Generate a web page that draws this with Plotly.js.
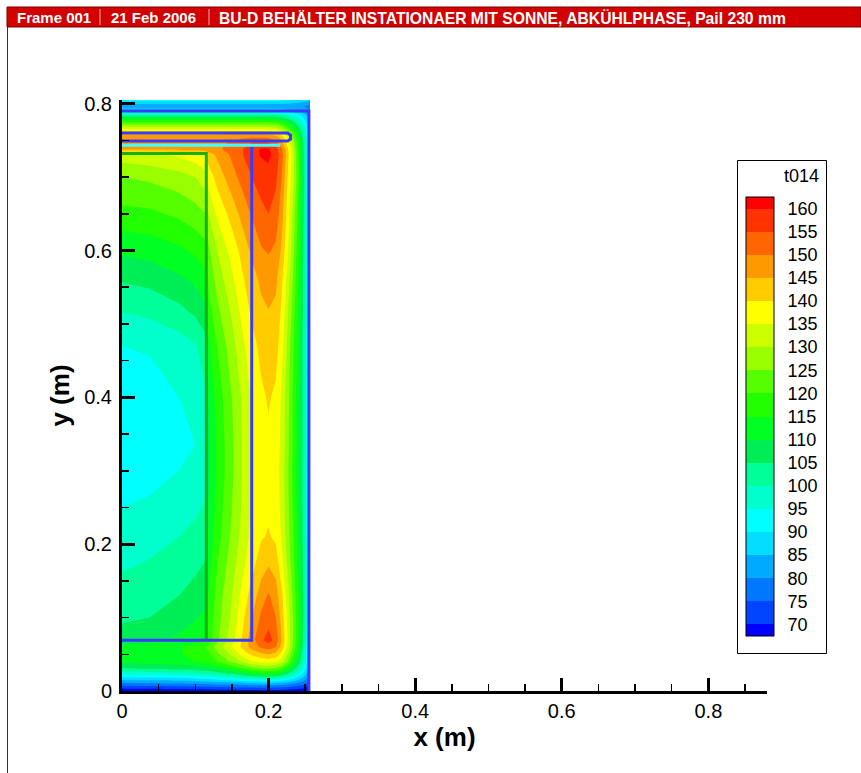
<!DOCTYPE html>
<html>
<head>
<meta charset="utf-8">
<script src="https://cdn.plot.ly/plotly-3.0.1.min.js"></script>
<style>html,body{margin:0;padding:0;background:#fff;}#chart{width:861px;height:773px;}</style>
</head>
<body>
<div id="chart"></div>
<script>
// ---- data ----
const xPos = [0, 0.038, 0.078, 0.1, 0.114, 0.118, 0.13, 0.15, 0.165, 0.177, 0.19, 0.2, 0.21, 0.218, 0.226, 0.234, 0.241, 0.247, 0.252, 0.256];
const yPos = [0, 0.008, 0.015, 0.022, 0.03, 0.04, 0.05, 0.06, 0.069, 0.1, 0.13, 0.17, 0.21, 0.25, 0.3, 0.335, 0.4, 0.47, 0.52, 0.56, 0.6, 0.65, 0.7, 0.731, 0.738, 0.745, 0.754, 0.761, 0.768, 0.776, 0.784, 0.79, 0.797, 0.805];
const t014 = [
  [66, 66, 66.5, 67, 67, 67, 67.5, 67.5, 68, 68, 68.5, 68.5, 68, 68, 67.5, 67, 66.5, 66, 65, 64],
  [76, 76.5, 77, 77.5, 78, 78, 78.5, 79, 79.5, 80, 80.5, 80.5, 80, 79.5, 78.5, 77.5, 76, 75, 73, 71],
  [85, 85.5, 86.5, 87.5, 88, 88.5, 89.5, 91, 92.5, 93.5, 94, 94, 93.5, 92, 90, 87.5, 85, 82, 79, 75],
  [94, 95, 96, 97, 98, 98.5, 100, 103, 106, 109, 111, 112, 110, 107, 103, 98, 94, 89, 84, 79],
  [104, 105, 106, 107, 108, 108.5, 111, 115, 119, 122, 124, 124.5, 123, 119.5, 114, 107.5, 101, 95, 88, 82],
  [111, 112, 113.5, 115, 116, 116.5, 120, 126, 131, 134.5, 136.5, 137, 136, 132, 125, 116, 108, 100, 91, 83],
  [111.5, 112.5, 114.5, 116.5, 118, 119, 124, 131, 137, 141, 144, 145, 143.5, 138, 130, 120, 111, 102, 93, 84],
  [111, 112, 114.5, 117.5, 120, 121, 127, 135, 141.5, 147, 151, 152.5, 150, 143, 134, 123, 114, 104, 94, 85],
  [108, 109, 111, 113, 114.5, 117, 124, 133, 141, 148, 154, 157, 153, 145, 135, 124, 115, 105, 95, 86],
  [104, 105, 107.5, 109.5, 111, 116, 123, 131, 139, 145, 151, 153, 150, 143, 134, 124, 115.5, 106, 96, 87],
  [102, 103, 105, 107, 108.5, 115, 122, 130, 137, 142, 147.5, 150.5, 147.5, 141, 132.5, 123, 115, 106, 96, 87],
  [99.5, 100.5, 102.5, 104, 105.5, 113, 120, 128, 134, 138.5, 143, 145, 143, 137, 129.5, 121, 113.5, 105, 96, 87],
  [97.5, 98.5, 100, 101.5, 103, 111, 118, 126, 132, 136.5, 139.5, 140.5, 139, 134.5, 127.5, 120, 112.5, 104.5, 95.5, 87],
  [95, 96, 97.5, 99, 100.5, 110, 117, 125, 131, 135.5, 138.5, 139, 138, 133.5, 126.5, 119, 112, 104, 95, 87],
  [91.5, 93, 95, 96.5, 98.5, 109, 116, 124, 130.5, 135, 138, 138.5, 137.5, 133, 126, 118.5, 111.5, 103.5, 95, 87],
  [91, 92, 93.5, 95, 98, 109, 116, 124, 130.5, 135, 138.5, 139, 138, 133.5, 126.5, 119, 112, 104, 95, 87],
  [92, 93, 95, 96.5, 99, 110, 117, 125, 131, 135.5, 139, 140.5, 139, 134, 127, 119, 112, 104, 95, 87],
  [95, 95.5, 97.5, 99.5, 103, 114, 120, 128, 134, 138, 141.5, 143, 142, 137, 129, 120, 113, 104, 95, 87],
  [100.5, 101.5, 104, 106.5, 109, 118, 124, 131, 137, 141, 144, 145, 144, 139, 131, 122, 114, 105, 95.5, 87],
  [105.5, 106.5, 109, 111, 113, 121, 127, 134, 139.5, 143, 146, 147, 146, 141, 133, 124, 115, 105, 95.5, 87],
  [111, 112, 114, 116, 118, 124, 130, 137, 142, 146, 149.5, 150.5, 149, 144, 136, 126, 116, 106, 96, 87],
  [118.5, 119, 121, 123, 125, 130, 136, 142, 147, 150.5, 153.5, 155, 153, 147, 138, 128, 118, 107, 96, 87],
  [125, 126, 128, 130, 133, 137, 142, 148, 152, 155, 157.5, 158.5, 156, 150, 140, 131, 120, 108, 97, 88],
  [133, 134, 136, 138, 140, 143, 146, 151, 155, 158, 160.5, 161, 158, 152, 142, 131, 119, 107, 96, 88],
  [146, 146, 146.5, 147, 147.5, 148, 149, 152, 155, 158, 160.5, 160.5, 157, 151, 141, 130, 118, 106, 96, 88],
  [147, 147, 147, 147.5, 148, 148, 149, 151, 153, 156, 157, 156, 153, 147, 138, 128, 117, 106, 96, 88],
  [148, 148, 148, 148, 148, 148, 148.5, 149, 149.5, 150, 150, 149.5, 147.5, 143, 135, 125, 114, 104, 95, 87],
  [142, 142, 142, 142, 142, 142, 142, 142, 142, 142, 142, 141.5, 140, 136, 129, 120, 111, 102, 94, 86],
  [131, 131, 131, 131, 131, 131, 131, 131, 131, 131, 131, 130.5, 129.5, 126, 120, 113, 106, 99, 92, 85],
  [118, 118, 118, 118, 118, 118, 118, 118, 118, 118, 118, 117.5, 117, 114.5, 110, 105, 99, 94, 89, 84],
  [103, 103, 103, 103, 103, 103, 103, 103, 103, 103, 103, 103, 102.5, 101, 98.5, 95.5, 92, 88.5, 85, 82],
  [88, 88, 88, 88, 88, 88, 88, 88, 88, 88, 88, 88, 88, 87.5, 86.5, 85.5, 84, 82.5, 81, 80],
  [82, 82, 82, 82, 82, 82, 82, 82, 82, 82, 82, 82, 82, 82, 81.5, 81, 80.5, 80, 79.5, 79],
  [92, 92, 92, 92, 92, 92, 92, 92, 92, 92, 92, 92, 92, 92, 91, 90, 89, 88, 87, 86]
];
const levelTicks = [70, 75, 80, 85, 90, 95, 100, 105, 110, 115, 120, 125, 130, 135, 140, 145, 150, 155, 160];
const bandColors = ['#0000ff', '#0044ff', '#0077ff', '#00aaff', '#00ddff', '#00ffff', '#00ffcc', '#00ff99', '#00ee55', '#00ff22',
                    '#22ff00', '#55ff00', '#99ff00', '#ccff00', '#ffff00', '#ffcc00', '#ff9900', '#ff6600', '#ff3300', '#ff0000'];
const legendTitle = 't014';
// structure outlines (m)
const wallOuterX = [0, 0.255, 0.255];      const wallOuterY = [0.79, 0.79, 0];
const lidX = [0, 0.226, 0.23, 0.23, 0.226, 0]; const lidY = [0.760, 0.760, 0.757, 0.752, 0.749, 0.749];
const sealX = [0, 0.216];                   const sealY = [0.7435, 0.7435];
const jacketX = [0.177, 0.177, 0];          const jacketY = [0.741, 0.069, 0.069];
const pailX = [0, 0.115, 0.115];            const pailY = [0.732, 0.732, 0.069];
const headerParts = ['Frame 001', '21 Feb 2006', 'BU-D BEHÄLTER INSTATIONAER MIT SONNE, ABKÜHLPHASE, Pail 230 mm'];

// ---- build ----
const colorscale = bandColors.map((c, i) => [i / (bandColors.length - 1), c]);
const W = 861, H = 773, L = 122, R = 94, T = 100, B = 82;
const pw = W - L - R, ph = H - T - B;
const px = v => (v - L) / pw;
const py = v => (H - B - v) / ph;
const FONT = 'Liberation Sans, Arial, sans-serif';

// colour-bar geometry (pixels)
const cbTop = 197, cbLen = 439, cbLeft = 746, cbThick = 28;
const cs = 5, cbMin = levelTicks[0] - cs / 2, cbMax = levelTicks[levelTicks.length - 1] + cs / 2;

const contour = {
  type: 'contour', x: xPos, y: yPos, z: t014,
  colorscale: colorscale,
  contours: {coloring: 'fill', showlines: false, start: levelTicks[0], end: levelTicks[levelTicks.length - 1], size: cs},
  line: {width: 0, smoothing: 0},
  hoverinfo: 'skip',
  colorbar: {
    tickvals: levelTicks, ticks: 'outside', ticklen: 10, tickcolor: 'rgba(0,0,0,0)',
    tickfont: {size: 18, color: '#000', family: FONT},
    thickness: cbThick, lenmode: 'pixels', len: cbLen,
    x: px(cbLeft - 8), xanchor: 'left', y: py(cbTop), yanchor: 'top',
    outlinewidth: 1, outlinecolor: '#000', borderwidth: 0, bgcolor: 'rgba(0,0,0,0)',
    xpad: 8, ypad: 0
  }
};
function line(xs, ys, color, width) {
  return {type: 'scatter', mode: 'lines', x: xs, y: ys, line: {color: color, width: width}, hoverinfo: 'skip', showlegend: false};
}
const traces = [
  contour,
  line(wallOuterX, wallOuterY, '#3a3aff', 3),
  line(pailX, pailY, '#16b016', 3),
  line(jacketX, jacketY, '#3a3aff', 3),
  line(sealX, sealY, '#44ffff', 3),
  line(lidX, lidY, '#3a3aff', 3)
];

// thin separators between legend bands, placed at the contour levels
const sepShapes = levelTicks.map(v => {
  const yy = cbTop + cbLen - (v - cbMin) / (cbMax - cbMin) * cbLen;
  return {type: 'line', xref: 'paper', yref: 'paper', x0: px(cbLeft), x1: px(cbLeft + cbThick), y0: py(yy), y1: py(yy), line: {color: '#333', width: 1}, layer: 'above'};
});

const axFont = {family: FONT, size: 20, color: '#000'};
const hdrFont = s => ({family: FONT, size: s, color: '#fff'});
const layout = {
  width: W, height: H,
  margin: {l: L, r: R, t: T, b: B, pad: 0},
  paper_bgcolor: '#fff', plot_bgcolor: '#fff',
  showlegend: false,
  font: axFont,
  xaxis: {
    range: [0, 0.88], dtick: 0.2, tick0: 0, showgrid: false, zeroline: false,
    showline: true, linecolor: '#000', linewidth: 3,
    ticks: 'inside', ticklen: 13, tickwidth: 3, tickcolor: '#000',
    minor: {dtick: 0.05, ticks: 'inside', ticklen: 7, tickwidth: 1.5, tickcolor: '#000', showgrid: false},
    tickfont: axFont,
    title: {text: '<b>x (m)</b>', font: {family: FONT, size: 26, color: '#000'}, standoff: 6}
  },
  yaxis: {
    range: [0, 0.805], dtick: 0.2, tick0: 0, showgrid: false, zeroline: false,
    showline: true, linecolor: '#000', linewidth: 3,
    ticks: 'inside', ticklen: 13, tickwidth: 3, tickcolor: '#000',
    minor: {dtick: 0.05, ticks: 'inside', ticklen: 7, tickwidth: 1.5, tickcolor: '#000', showgrid: false},
    tickfont: axFont, ticklabelstandoff: 3,
    title: {text: '<b>y (m)</b>', font: {family: FONT, size: 26, color: '#000'}, standoff: 8}
  },
  shapes: [
    {type: 'rect', xref: 'paper', yref: 'paper', x0: px(7), x1: px(861), y0: py(27), y1: py(7), fillcolor: '#d20000', line: {color: '#7a0000', width: 1}, layer: 'above'},
    {type: 'line', xref: 'paper', yref: 'paper', x0: px(100), x1: px(100), y0: py(25), y1: py(9), line: {color: '#f0b0b0', width: 1}},
    {type: 'line', xref: 'paper', yref: 'paper', x0: px(209), x1: px(209), y0: py(25), y1: py(9), line: {color: '#f0b0b0', width: 1}},
    {type: 'line', xref: 'paper', yref: 'paper', x0: px(7.5), x1: px(7.5), y0: py(27), y1: py(773), line: {color: '#333', width: 1}},
    {type: 'rect', xref: 'paper', yref: 'paper', x0: px(737.5), x1: px(826.5), y0: py(653.5), y1: py(160.5), fillcolor: 'rgba(0,0,0,0)', line: {color: '#000', width: 1}, layer: 'above'}
  ].concat(sepShapes),
  annotations: [
    {xref: 'paper', yref: 'paper', x: px(15), y: py(17.5), xanchor: 'left', yanchor: 'middle', showarrow: false, text: '<b>' + headerParts[0] + '</b>', font: hdrFont(15)},
    {xref: 'paper', yref: 'paper', x: px(109), y: py(17.5), xanchor: 'left', yanchor: 'middle', showarrow: false, text: '<b>' + headerParts[1] + '</b>', font: hdrFont(15)},
    {xref: 'paper', yref: 'paper', x: px(217), y: py(17.5), xanchor: 'left', yanchor: 'middle', showarrow: false, text: '<b>' + headerParts[2] + '</b>', font: hdrFont(15.7)},
    {xref: 'paper', yref: 'paper', x: px(821), y: py(176), xanchor: 'right', yanchor: 'middle', showarrow: false, text: legendTitle, font: {family: FONT, size: 18, color: '#000'}}
  ]
};
Plotly.newPlot('chart', traces, layout, {staticPlot: true, displayModeBar: false});
</script>
</body>
</html>
